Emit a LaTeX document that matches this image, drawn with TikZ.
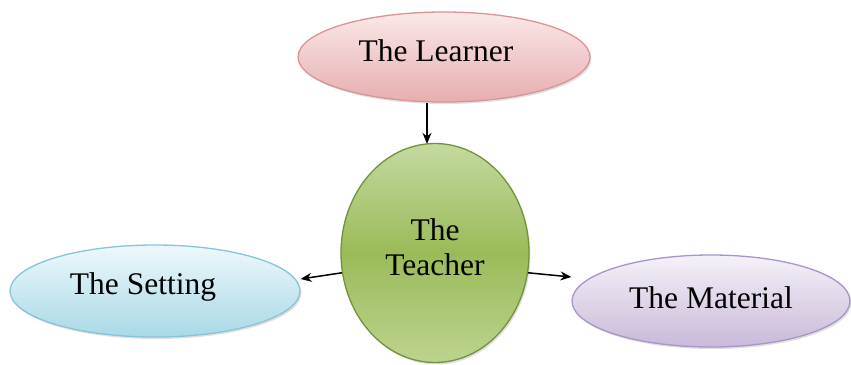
\documentclass[tikz,border=0pt]{standalone}
\usepackage{fontspec}
\setmainfont{Liberation Serif}
\usetikzlibrary{shapes.geometric,arrows.meta,shadows}
\definecolor{lrntop}{HTML}{FBE8E8}
\definecolor{lrnbot}{HTML}{E6AEB0}
\definecolor{lrnbrd}{HTML}{D99596}
\definecolor{settop}{HTML}{EEF8FB}
\definecolor{setbot}{HTML}{A9D9E6}
\definecolor{setbrd}{HTML}{86C4D8}
\definecolor{mattop}{HTML}{F5F1F8}
\definecolor{matbot}{HTML}{C9BAD9}
\definecolor{matbrd}{HTML}{A895C6}
\definecolor{tchtop}{HTML}{C4D9A0}
\definecolor{tchmid}{HTML}{9BBB59}
\definecolor{tchbot}{HTML}{BCD38F}
\definecolor{tchbrd}{HTML}{71933A}
\tikzset{
  bubble/.style={ellipse, inner sep=0pt, line width=1.3pt,
    font=\fontsize{31.5}{35}\selectfont,
    drop shadow={opacity=0.25, shadow xshift=1.5pt, shadow yshift=-2pt}},
  arr/.style={-{Stealth[length=11pt,width=9pt]}, line width=1.5pt, black}
}
\begin{document}
\begin{tikzpicture}[x=1pt,y=-1pt]
\useasboundingbox (0,0) rectangle (851,364);
\node[bubble, draw=lrnbrd, top color=lrntop, bottom color=lrnbot,
  minimum width=292pt, minimum height=90pt, text height=21pt, text depth=12pt] (learner) at (444,57) {The Learner\hspace*{16pt}};
\node[bubble, align=center, draw=tchbrd, top color=tchtop, bottom color=tchbot, middle color=tchmid,
  minimum width=188pt, minimum height=219pt, text depth=12pt] (teacher) at (435,253) {The\\Teacher};
\node[bubble, draw=setbrd, top color=settop, bottom color=setbot,
  minimum width=290pt, minimum height=92pt, text height=21pt, text depth=14pt] (setting) at (155,291) {The Setting\hspace*{24pt}};
\node[bubble, draw=matbrd, top color=mattop, bottom color=matbot,
  minimum width=278pt, minimum height=92pt, text height=21pt, text depth=7pt] (material) at (711,301) {The Material};
\draw[arr] ([xshift=-17pt]learner.south) -- ([xshift=-8pt,yshift=-1pt]teacher.north);
\draw[arr] (teacher.192) -- ([yshift=12pt]setting.east);
\draw[arr] (teacher.-12) -- ([yshift=24pt]material.west);
\end{tikzpicture}
\end{document}
